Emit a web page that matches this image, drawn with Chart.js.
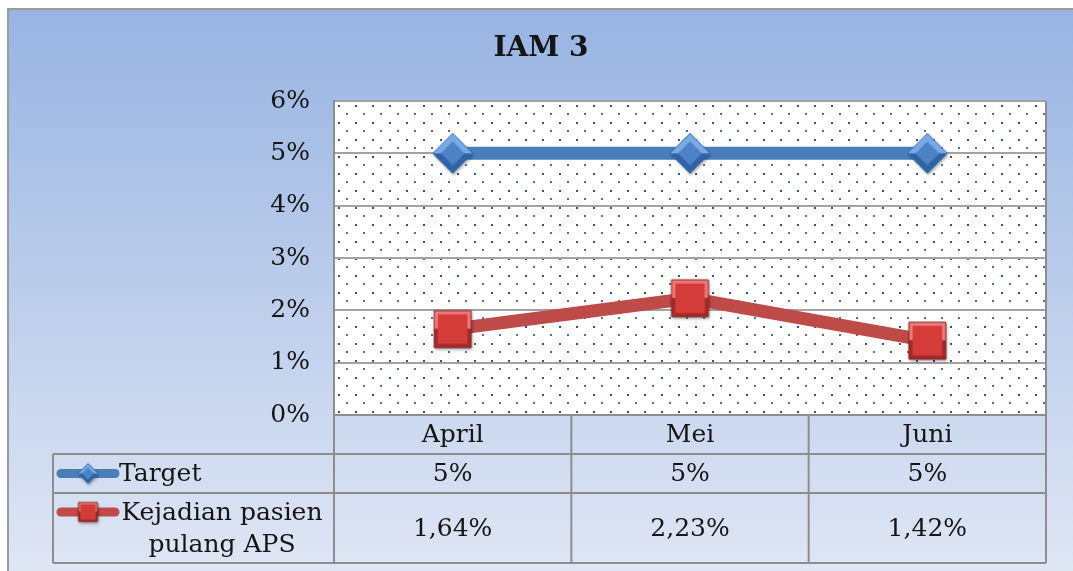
<!DOCTYPE html>
<html>
<head>
<meta charset="utf-8">
<script src="https://cdn.jsdelivr.net/npm/chart.js@4.4.0/dist/chart.umd.min.js"></script>
<style>
  html, body { margin: 0; padding: 0; background: #fff; }
  #wrap { width: 1073px; height: 571px; }
</style>
</head>
<body>
<div id="wrap"><canvas id="c" width="1073" height="571"></canvas></div>
<script>
"use strict";

const TITLE = "IAM 3";
const categories = ["April", "Mei", "Juni"];
const targetValues = [5, 5, 5];
const kejadianValues = [1.64, 2.23, 1.42];
const targetLabel = ["Target"];
const kejadianLabel = ["Kejadian pasien", "pulang APS"];
const yMin = 0, yMax = 6, yStep = 1;

const SERIF = "'DejaVu Serif', 'Liberation Serif', serif";
const BLUE = "#4a7ebb";
const RED = "#be4b48";
const GRID = "#a3a3a3";
const TABLE_LINE = "#8d8d8d";
const TEXT = "#151515";

const fmtPct = (v) => String(v).replace(".", ",") + "%";

// beveled marker images (diamond / square), roughly like the office-style 3D markers
function makeMarker(shape, s, light, mid, dark, edge) {
  const pad = 5;
  const cv = document.createElement("canvas");
  cv.width = cv.height = Math.ceil(s + pad * 2);
  const g = cv.getContext("2d");
  const m = cv.width / 2;
  const path = (h) => {
    g.beginPath();
    if (shape === "diamond") {
      g.moveTo(m, m - h); g.lineTo(m + h, m); g.lineTo(m, m + h); g.lineTo(m - h, m);
    } else {
      g.rect(m - h, m - h, 2 * h, 2 * h);
    }
    g.closePath();
  };
  const h = s / 2;
  g.save();
  g.shadowColor = "rgba(0,0,0,0.35)";
  g.shadowBlur = 3;
  g.shadowOffsetX = 1;
  g.shadowOffsetY = 2;
  path(h); g.fillStyle = dark; g.fill();
  g.restore();
  const facet = g.createLinearGradient(0, m - h, 0, m + h);
  facet.addColorStop(0, light);
  facet.addColorStop(0.5, light);
  facet.addColorStop(0.5, dark);
  facet.addColorStop(1, dark);
  path(h); g.fillStyle = facet; g.fill();
  path(h * (shape === "diamond" ? 0.6 : 0.8)); g.fillStyle = mid; g.fill();
  path(h); g.strokeStyle = edge; g.lineWidth = 1; g.stroke();
  return cv;
}

const blueDiamond = makeMarker("diamond", 40, "#79aae6", "#4d83c6", "#2f63a6", "#3a6db0");
const redSquare = makeMarker("square", 37, "#ee7b78", "#d43c3a", "#a42a28", "#7d2624");
const blueDiamondSmall = makeMarker("diamond", 20, "#79aae6", "#4d83c6", "#2f63a6", "#3a6db0");
const redSquareSmall = makeMarker("square", 19, "#ee7b78", "#d43c3a", "#a42a28", "#7d2624");

// dotted plot-area fill
function dotPattern(ctx) {
  const p = document.createElement("canvas");
  p.width = 17; p.height = 17;
  const g = p.getContext("2d");
  g.fillStyle = "#fff";
  g.fillRect(0, 0, 17, 17);
  g.fillStyle = "#2f5597";
  g.fillRect(4, 4, 2, 2);
  g.fillStyle = "#4f6fa8";
  g.fillRect(12, 12, 2, 2);
  return ctx.createPattern(p, "repeat");
}

const framePlugin = {
  id: "frame",
  beforeDraw(chart) {
    const { ctx, chartArea: a, width, height } = chart;
    ctx.save();
    const bg = ctx.createLinearGradient(0, 9, 0, height);
    bg.addColorStop(0, "#98b4e2");
    bg.addColorStop(1, "#dfe6f4");
    ctx.fillStyle = bg;
    ctx.fillRect(8, 9, width + 10, height);
    ctx.strokeStyle = "#9a9a9a";
    ctx.lineWidth = 2;
    ctx.strokeRect(8, 9, width + 10, height + 10);

    ctx.translate(a.left, a.top);
    ctx.fillStyle = dotPattern(ctx);
    ctx.fillRect(0, 0, a.right - a.left, a.bottom - a.top);
    ctx.restore();

    // title
    ctx.save();
    ctx.fillStyle = TEXT;
    ctx.font = "bold 28px " + SERIF;
    ctx.textAlign = "center";
    ctx.textBaseline = "middle";
    ctx.fillText(TITLE, 541, 49);
    ctx.restore();
  },
};

// data table under the plot, columns taken from the x scale
const tablePlugin = {
  id: "dataTable",
  afterDraw(chart) {
    const { ctx, chartArea: a } = chart;
    const x = chart.scales.x;
    const step = x.getPixelForValue(1) - x.getPixelForValue(0);
    const tLeft = 53;
    const r0 = a.bottom, r1 = r0 + 39, r2 = r1 + 39, r3 = r2 + 70;

    ctx.save();
    ctx.strokeStyle = TABLE_LINE;
    ctx.lineWidth = 2;
    ctx.beginPath();
    // plot right border
    ctx.moveTo(a.right, a.top); ctx.lineTo(a.right, a.bottom);
    ctx.moveTo(a.left, r0); ctx.lineTo(a.right, r0);
    [r1, r2, r3].forEach((y) => { ctx.moveTo(tLeft, y); ctx.lineTo(a.right, y); });
    ctx.moveTo(tLeft, r1); ctx.lineTo(tLeft, r3);
    for (let i = 0; i <= categories.length; i++) {
      const px = x.getPixelForValue(0) - step / 2 + i * step;
      ctx.moveTo(px, r0); ctx.lineTo(px, r3);
    }
    ctx.stroke();

    ctx.fillStyle = TEXT;
    ctx.font = "25px " + SERIF;
    ctx.textAlign = "center";
    ctx.textBaseline = "middle";
    const rows = [
      { vals: targetValues, y: (r1 + r2) / 2 },
      { vals: kejadianValues, y: (r2 + r3) / 2 },
    ];
    rows.forEach((row) => {
      row.vals.forEach((v, i) => ctx.fillText(fmtPct(v), x.getPixelForValue(i), row.y + 1));
    });

    // legend keys
    const keys = [
      { color: BLUE, img: blueDiamondSmall, y: (r1 + r2) / 2, lines: targetLabel },
      { color: RED, img: redSquareSmall, y: r2 + 19, lines: kejadianLabel },
    ];
    ctx.lineCap = "round";
    keys.forEach((k) => {
      ctx.strokeStyle = k.color;
      ctx.lineWidth = 9;
      ctx.beginPath();
      ctx.moveTo(61, k.y); ctx.lineTo(115, k.y);
      ctx.stroke();
      ctx.drawImage(k.img, 88 - k.img.width / 2, k.y - k.img.height / 2);
    });
    ctx.fillStyle = TEXT;
    ctx.textAlign = "left";
    ctx.fillText(targetLabel[0], 119, keys[0].y + 1);
    ctx.textAlign = "center";
    kejadianLabel.forEach((t, i) => ctx.fillText(t, 222, keys[1].y + 1 + i * 32));
    ctx.restore();
  },
};

new Chart(document.getElementById("c"), {
  type: "line",
  data: {
    labels: categories,
    datasets: [
      {
        label: targetLabel.join(" "),
        data: targetValues,
        borderColor: BLUE,
        backgroundColor: BLUE,
        borderWidth: 13,
        tension: 0,
        pointStyle: blueDiamond,
      },
      {
        label: kejadianLabel.join(" "),
        data: kejadianValues,
        borderColor: RED,
        backgroundColor: RED,
        borderWidth: 13,
        tension: 0,
        pointStyle: redSquare,
      },
    ],
  },
  options: {
    responsive: false,
    animation: false,
    devicePixelRatio: 1,
    events: [],
    layout: { padding: { top: 101, right: 27, bottom: 116, left: 0 } },
    plugins: {
      legend: { display: false },
      title: { display: false },
      tooltip: { enabled: false },
    },
    scales: {
      x: {
        offset: true,
        grid: { display: false, drawTicks: false },
        border: { display: false },
        ticks: { color: TEXT, padding: 5, font: { family: SERIF, size: 25 } },
      },
      y: {
        min: yMin,
        max: yMax,
        afterFit: (s) => { s.width = 334; },
        grid: { color: GRID, lineWidth: 2, drawTicks: false },
        border: { display: true, color: TABLE_LINE, width: 2 },
        ticks: {
          stepSize: yStep,
          color: TEXT,
          padding: 24,
          font: { family: SERIF, size: 25 },
          callback: (v) => v + "%",
        },
      },
    },
  },
  plugins: [framePlugin, tablePlugin],
});
</script>
</body>
</html>
